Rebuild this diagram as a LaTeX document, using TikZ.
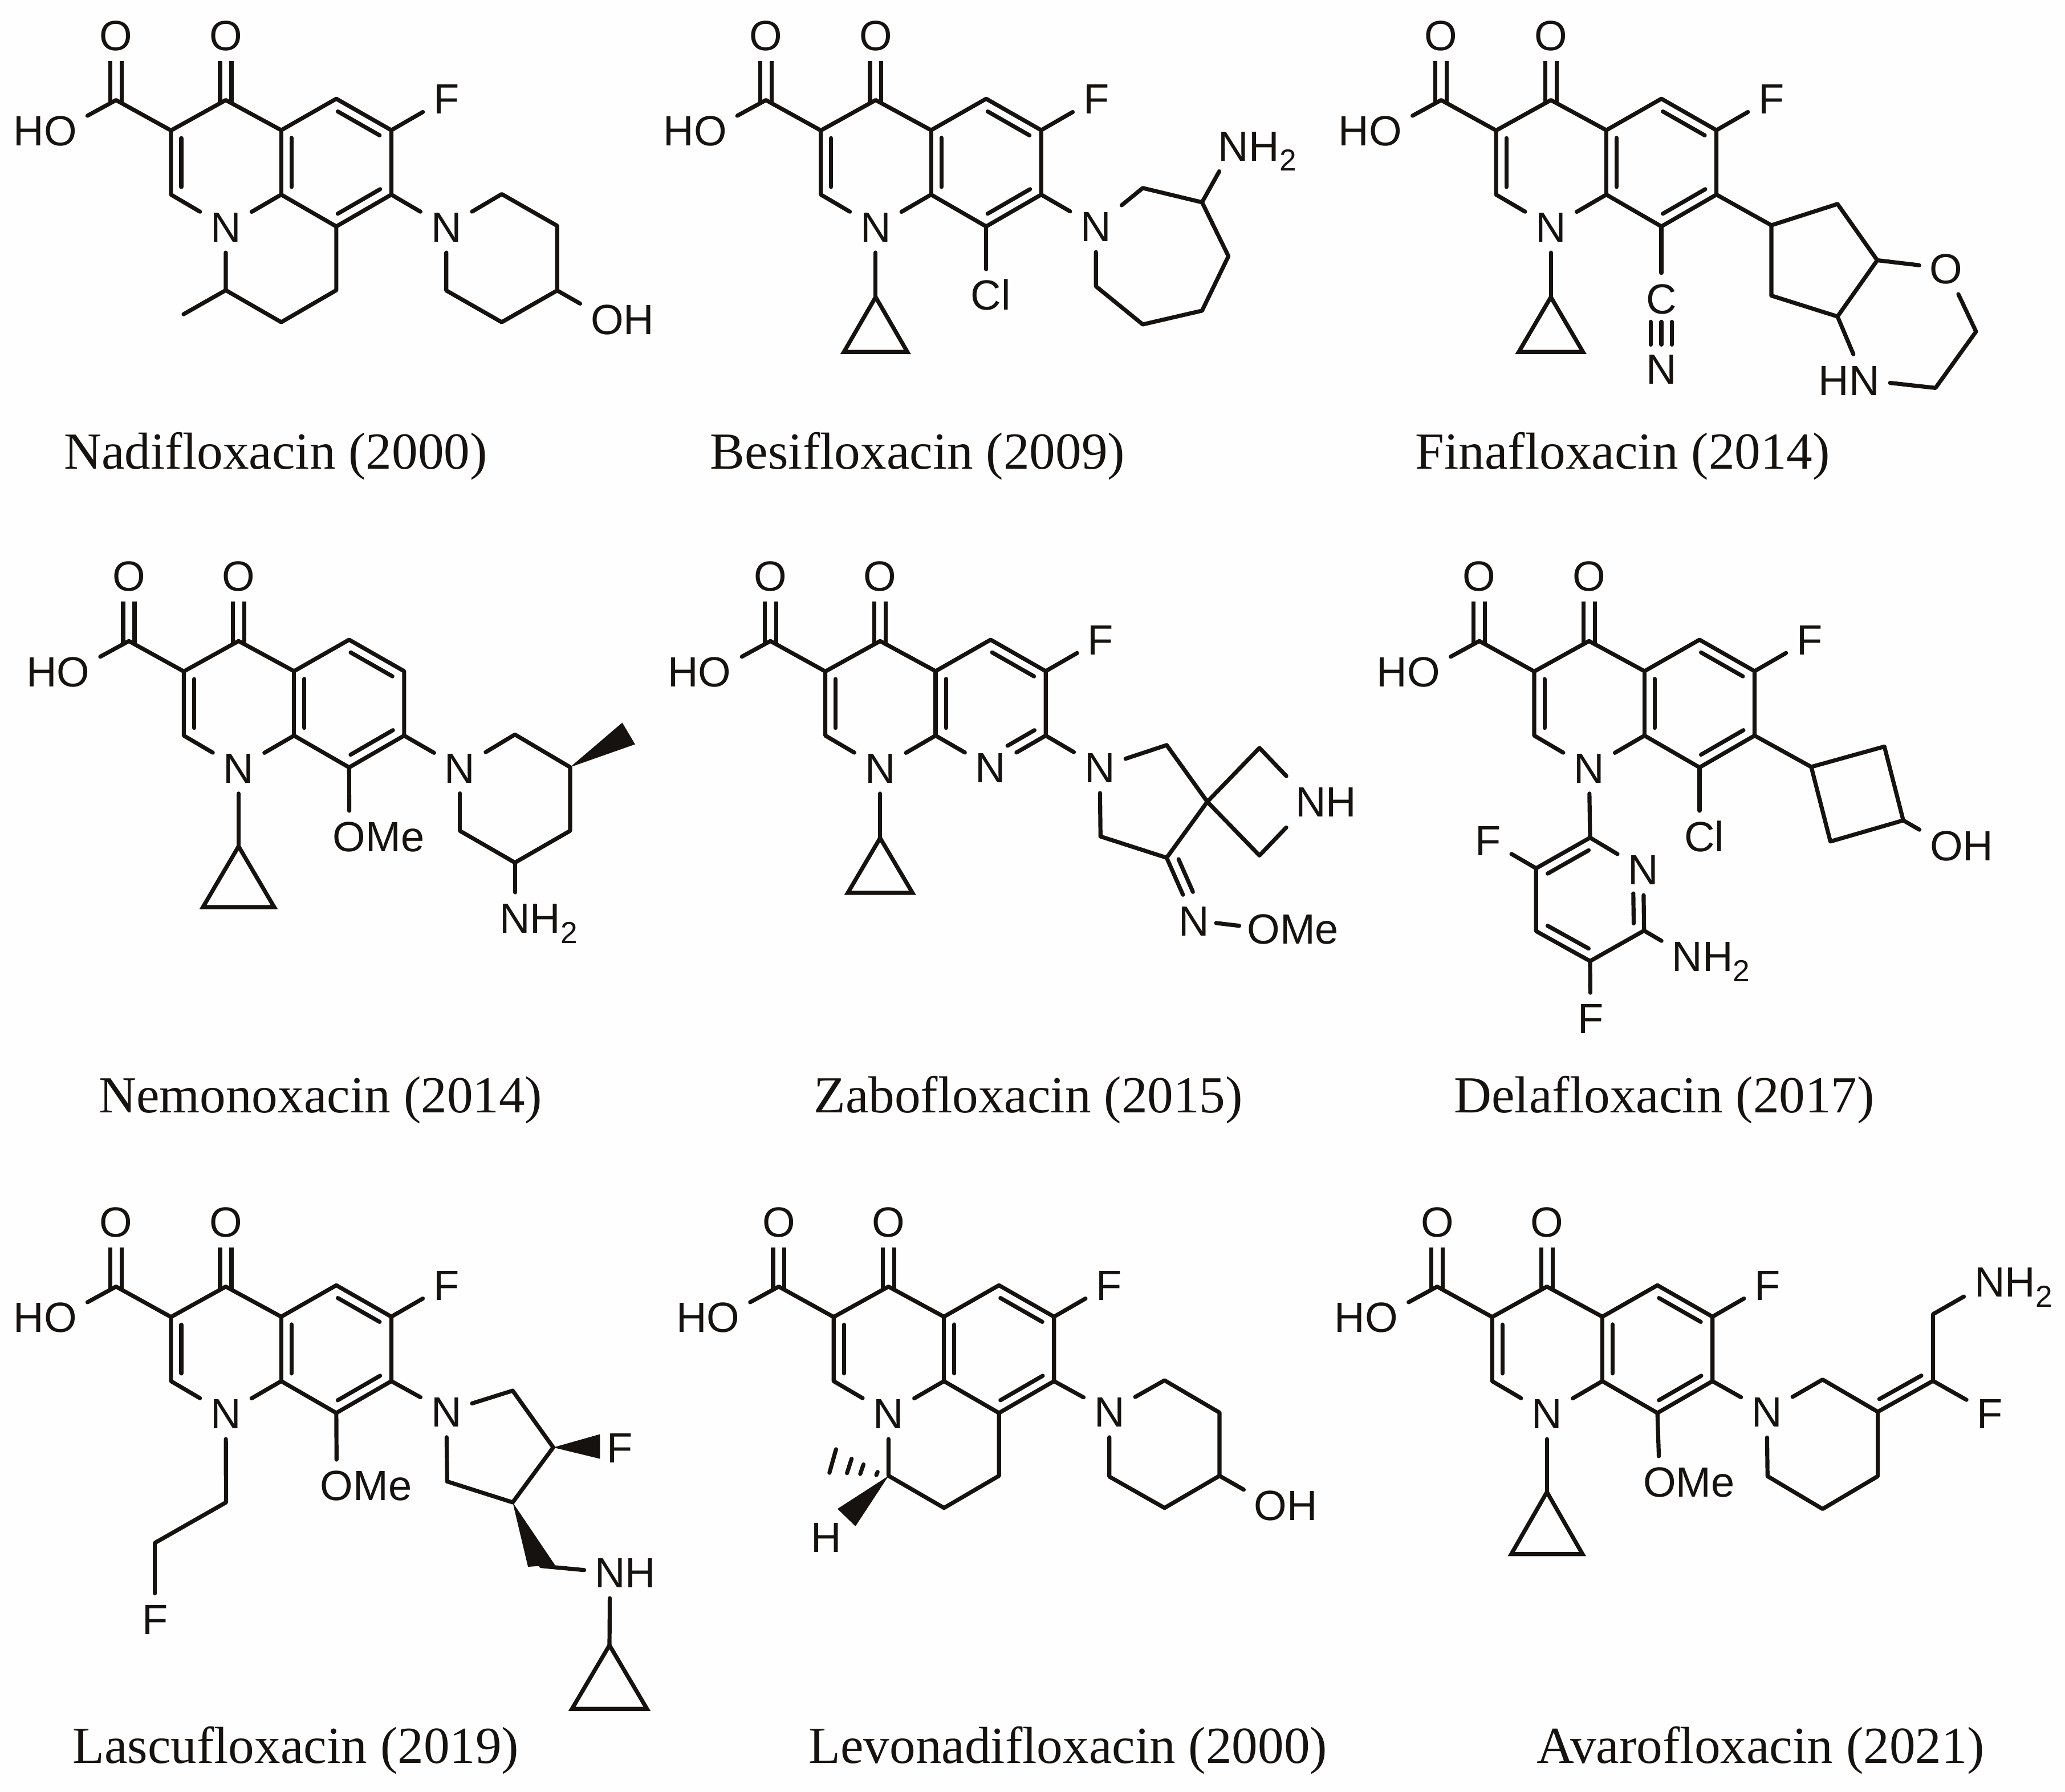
\documentclass[tikz,border=0pt]{standalone}
\usepackage{fontspec}
\usetikzlibrary{calc}
\newfontfamily\atomfont{Liberation Sans}
\newfontfamily\capfont[Ligatures=NoCommon]{Liberation Serif}
\definecolor{ink}{HTML}{16120F}
\definecolor{paper}{HTML}{FEFEFE}
\tikzset{
  bond/.style={draw=ink,line width=3.1pt,line cap=round,line join=round},
  dbl/.style={draw=ink,line width=3.1pt,line cap=butt,double=paper,double distance=5.5pt},
  atom/.style={text=ink,inner sep=8pt,outer sep=0pt,text height=23pt,text depth=0pt,
    font=\atomfont\fontsize{32}{32}\selectfont},
  vtx/.style={inner sep=0pt,outer sep=0pt,minimum size=0pt},
  capt/.style={text=ink,anchor=base,inner sep=0pt,font=\capfont\fontsize{39.4}{39.4}\selectfont},
}
\newcommand\subtwo{\raisebox{-7.7pt}{\fontsize{23}{23}\selectfont 2}}
\newcommand\atom[3]{\node[atom] (#1) at (#2) {#3};}
\newcommand\vx[2]{\coordinate (#1) at (#2);}
\newcommand\inbx[4]{\draw[bond] ($(#1)!#3!(#2)!7.8pt!90:(#2)$) -- ($(#2)!#4!(#1)!7.8pt!-90:(#1)$);}
\newcommand\inb[2]{\inbx{#1}{#2}{.12}{.12}}
\newcommand\wdg[3]{\fill[ink] (#1) -- (#2) -- (#3) -- cycle;}
\newcommand\cpr[5]{%
  \coordinate (cpt) at (#2,#3);
  \coordinate (cpl) at ({#2-#5},{#3+#4});
  \coordinate (cpr) at ({#2+#5},{#3+#4});
  \draw[bond] (#1) -- (cpt);
  \draw[bond,line join=miter] (cpt) -- (cpl) -- (cpr) -- cycle;}
\newcommand\quin[5]{%
  \def\dx{#1}\def\dy{#2}%
  \begin{scope}[shift={(#1,#2)}]
    \atom{Oa}{87.9,26.5}{O}
    \atom{Ob}{171,26.5}{O}
    \atom{OH}{45.8,98.8}{\llap{H}O}
    \atom{N1}{171,171.8}{N}
    \vx{Cc}{87.9,75.8}
    \vx{C3}{129.5,98.8}
    \vx{C4}{171,75.8}
    \vx{C4a}{213,98.6}
    \vx{C8a}{213,147.4}
    \vx{C2}{129.5,147.4}
    \vx{C5}{254.7,74.8}
    \vx{C6}{296.4,98.6}
    \vx{C7}{296.4,147.4}
    \node[#3] (C8) at (254.7,171.5) {#4};
    \draw[dbl,shorten >=-3pt] (Oa) -- (Cc);
    \draw[dbl,shorten >=-3pt] (Ob) -- (C4);
    \draw[bond] (OH) -- (Cc) -- (C3) -- (C4) -- (C4a) -- (C5) -- (C6) -- (C7) -- (C8);
    \draw[bond] (C8) -- (C8a) -- (N1);
    \draw[bond] (N1) -- (C2) -- (C3);
    \draw[bond] (C4a) -- (C8a);
    \inb{C3}{C2}
    \inb{C4a}{C8a}
    \inb{C6}{C5}
    \inbx{C8}{C7}{#5}{.11}
  \end{scope}}
\newcommand\fsix{%
  \begin{scope}[shift={(\dx,\dy)}]\atom{F6}{338,74.6}{F}\end{scope}
  \draw[bond] (C6) -- (F6);}
\newcommand\capn[3]{\node[capt] (cap) at (#1,#2) {#3};}
\begin{document}
\begin{tikzpicture}[x=1pt,y=-1pt]
\fill[paper] (0,0) rectangle (1564,1356.8);
\useasboundingbox (0,0) rectangle (1564,1356.8);

% Nadifloxacin
\begin{scope}[name prefix=nadi-]
  \quin{0}{0}{vtx}{}{.12}\fsix
  \atom{Np}{338,171.8}{N}
  \atom{OHp}{459.8,241.6}{O\rlap{H}}
  \vx{a}{380,147}\vx{b}{422,171}\vx{c}{422,220}\vx{d}{380,244}\vx{f}{338,220}
  \vx{p}{254.7,219.8}\vx{q}{213,244}\vx{r}{171,219.8}\vx{m}{139,238}
  \draw[bond] (C7) -- (Np);
  \draw[bond] (Np) -- (a) -- (b) -- (c) -- (d) -- (f) -- (Np);
  \draw[bond] (c) -- (OHp);
  \draw[bond] (C8) -- (p) -- (q) -- (r) -- (N1);
  \draw[bond] (r) -- (m);
  \capn{208.8}{355}{Nadifloxacin (2000)}
\end{scope}

% Besifloxacin
\begin{scope}[name prefix=besi-]
  \quin{492.2}{0}{vtx}{}{.12}\fsix
  \cpr{N1}{663.2}{225}{41.5}{24}
  \atom{Cl}{746.9,223.4}{C\rlap{l}}
  \atom{Np}{830,171.4}{N}
  \atom{NH}{934.3,110.3}{N\rlap{H\subtwo}}
  \vx{a}{865.5,142.4}\vx{b}{910.4,153.2}\vx{c}{930.4,194}\vx{d}{910.4,235.3}\vx{f}{865.5,245.7}\vx{g}{830,216.8}
  \draw[bond] (C8) -- (Cl);
  \draw[bond] (C7) -- (Np);
  \draw[bond] (Np) -- (a) -- (b) -- (c) -- (d) -- (f) -- (g) -- (Np);
  \draw[bond] (b) -- (NH);
  \capn{695}{355}{Besifloxacin (2009)}
\end{scope}

% Finafloxacin
\begin{scope}[name prefix=fina-]
  \quin{1003.6}{0}{vtx}{}{.12}\fsix
  \cpr{N1}{1174.6}{225}{41.5}{24.3}
  \atom{CN}{1258.3,226.2}{C}
  \atom{NN}{1258.3,279.5}{N}
  \atom{Ox}{1474,203.3}{O}
  \atom{HN}{1411.9,287.8}{\llap{H}N}
  \vx{a}{1341.6,170.6}\vx{b}{1391.7,154.5}\vx{c}{1421.8,197.1}\vx{d}{1391.7,239.7}\vx{f}{1341.6,223.9}
  \vx{g}{1496.6,251.1}\vx{h}{1465.9,293.8}
  \draw[bond] (C8) -- (CN);
  \draw[bond,shorten <=-2pt,shorten >=-1pt] (CN.south) -- (NN.north);
  \draw[bond,shorten <=-2pt,shorten >=-1pt] ($(CN.south)+(-8,0)$) -- ($(NN.north)+(-8,0)$);
  \draw[bond,shorten <=-2pt,shorten >=-1pt] ($(CN.south)+(8,0)$) -- ($(NN.north)+(8,0)$);
  \draw[bond] (C7) -- (a) -- (b) -- (c) -- (d) -- (f) -- (a);
  \draw[bond] (c) -- (Ox) -- (g) -- (h) -- (HN) -- (d);
  \capn{1229}{355}{Finafloxacin (2014)}
\end{scope}

% Nemonoxacin
\begin{scope}[name prefix=nemo-]
  \quin{9.7}{409.7}{vtx}{}{.12}
  \cpr{N1}{180.7}{641}{46}{27}
  \atom{OMe}{264.5,633.5}{O\rlap{Me}}
  \atom{Np}{348.3,581.4}{N}
  \atom{NH}{390,695.3}{N\rlap{H\subtwo}}
  \vx{a}{390,556.3}\vx{b}{431.8,581}\vx{c}{431.8,629.2}\vx{d}{390,653.3}\vx{f}{348.3,629.2}
  \vx{w1}{471.3,547.3}\vx{w2}{481,563.7}
  \draw[bond] (C8) -- (OMe);
  \draw[bond] (C7) -- (Np);
  \draw[bond] (Np) -- (a) -- (b) -- (c) -- (d) -- (f) -- (Np);
  \draw[bond] (d) -- (NH);
  \wdg{b}{w1}{w2}
  \capn{242.8}{842.7}{Nemonoxacin (2014)}
\end{scope}

% Zabofloxacin
\begin{scope}[name prefix=zabo-]
  \quin{495.6}{409.7}{atom}{N}{.40}\fsix
  \cpr{N1}{666.6}{634.7}{41.5}{24.5}
  \atom{Np}{832.9,581.1}{N}
  \atom{NH}{992.8,607.2}{N\rlap{H}}
  \atom{Nx}{904.5,697.1}{N}
  \atom{OMe}{957,703.3}{O\rlap{Me}}
  \vx{a}{883.6,564.3}\vx{s}{914.4,607.2}\vx{c}{883.6,649.6}\vx{d}{833.5,633.5}
  \vx{u}{953.9,566.4}\vx{v}{953.9,647.9}
  \draw[bond] (C7) -- (Np);
  \draw[bond] (Np) -- (a) -- (s) -- (c) -- (d) -- (Np);
  \draw[bond] (s) -- (u) -- (NH) -- (v) -- (s);
  \draw[bond] (c) -- (Nx);
  \inbx{c}{Nx}{.09}{.39}
  \draw[bond,shorten <=-3pt,shorten >=-2pt] (Nx) -- (OMe);
  \capn{778.8}{842.7}{Zabofloxacin (2015)}
\end{scope}

% Delafloxacin
\begin{scope}[name prefix=dela-]
  \quin{1032.5}{409.7}{vtx}{}{.12}\fsix
  \atom{Cl}{1287.2,633.5}{C\rlap{l}}
  \atom{OHp}{1474.2,640.2}{O\rlap{H}}
  \atom{Npy}{1244.6,658.5}{N}
  \atom{Fa}{1127,636.4}{F}
  \atom{Fb}{1204.6,771.3}{F}
  \atom{NH}{1277.9,724}{N\rlap{H\subtwo}}
  \vx{a}{1371.8,580.8}\vx{b}{1427.2,565.4}\vx{c}{1441.5,621.3}\vx{d}{1386.3,637.3}
  \vx{pt}{1204.3,634.4}\vx{pb}{1245.2,704.8}\vx{pc}{1204.3,727.9}\vx{pd}{1163.4,705.2}\vx{pe}{1163.4,657.6}
  \draw[bond] (C8) -- (Cl);
  \draw[bond] (C7) -- (a) -- (b) -- (c) -- (d) -- (a);
  \draw[bond] (c) -- (OHp);
  \draw[bond] (N1) -- (pt);
  \draw[bond] (pt) -- (Npy) -- (pb) -- (pc) -- (pd) -- (pe) -- (pt);
  \inb{pt}{pe}
  \inb{pd}{pc}
  \inbx{pb}{Npy}{.12}{.39}
  \draw[bond] (pe) -- (Fa);
  \draw[bond] (pc) -- (Fb);
  \draw[bond] (pb) -- (NH);
  \capn{1260.5}{842.7}{Delafloxacin (2017)}
\end{scope}

% Lascufloxacin
\begin{scope}[name prefix=lasc-]
  \quin{0}{898.6}{vtx}{}{.12}\fsix
  \atom{OMe}{255,1124.9}{O\rlap{Me}}
  \atom{Np}{338,1069}{N}
  \atom{Fa}{469.3,1096.2}{F}
  \atom{Fb}{117.3,1226.2}{F}
  \atom{NH}{462,1190.9}{N\rlap{H}}
  \vx{a}{388.3,1053.2}\vx{b}{419,1096.2}\vx{c}{388.3,1137.8}\vx{d}{338.7,1122}
  \vx{w1}{454.4,1086.2}\vx{w2}{454.4,1104.8}
  \vx{w3}{399.9,1186.6}\vx{w4}{420.3,1185.2}\vx{wm}{409.8,1186}
  \vx{ch1}{171.2,1137.8}\vx{ch2}{117.3,1168.5}
  \draw[bond] (C8) -- (OMe);
  \draw[bond] (C7) -- (Np);
  \draw[bond] (Np) -- (a) -- (b) -- (c) -- (d) -- (Np);
  \wdg{b}{w1}{w2}
  \wdg{c}{w3}{w4}
  \draw[bond] (wm) -- (NH);
  \cpr{NH}{461.6}{1246}{48.2}{28.4}
  \draw[bond] (N1) -- (ch1) -- (ch2) -- (Fb);
  \capn{224}{1335.4}{Lascufloxacin (2019)}
\end{scope}

% Levonadifloxacin
\begin{scope}[name prefix=levo-]
  \quin{501.9}{898.6}{vtx}{}{.12}\fsix
  \atom{Np}{840.2,1069}{N}
  \atom{OHp}{962.4,1139.8}{O\rlap{H}}
  \atom{Hh}{626,1164.2}{H}
  \vx{a}{882,1045.4}\vx{b}{923.6,1069.8}\vx{c}{923.6,1117.7}\vx{d}{882,1142}\vx{f}{840.2,1118.3}
  \vx{r}{673,1117.7}\vx{q}{715,1142}\vx{p}{756.6,1117.7}
  \vx{w1}{634.3,1142.7}\vx{w2}{647.9,1155.9}
  \vx{h1}{633.2,1097.6}\vx{h2}{628.2,1115.4}
  \vx{h3}{645,1104.8}\vx{h4}{641.5,1115.7}
  \vx{h5}{654,1109.1}\vx{h6}{651.5,1116.3}
  \vx{h7}{664.7,1114.8}\vx{h8}{663.7,1117.1}
  \draw[bond] (C7) -- (Np);
  \draw[bond] (Np) -- (a) -- (b) -- (c) -- (d) -- (f) -- (Np);
  \draw[bond] (c) -- (OHp);
  \draw[bond] (C8) -- (p) -- (q) -- (r) -- (N1);
  \wdg{r}{w1}{w2}
  \draw[bond] (h1) -- (h2);
  \draw[bond] (h3) -- (h4);
  \draw[bond] (h5) -- (h6);
  \draw[bond] (h7) -- (h8);
  \capn{808.9}{1335.4}{Levonadifloxacin (2000)}
\end{scope}

% Avarofloxacin
\begin{scope}[name prefix=avar-]
  \quin{1000.6}{898.6}{vtx}{}{.12}\fsix
  \cpr{N1}{1171.6}{1130}{47}{27}
  \atom{OMe}{1257,1122.3}{O\rlap{Me}}
  \atom{Np}{1338.1,1069.2}{N}
  \atom{NH}{1506.9,970.8}{N\rlap{H\subtwo}}
  \atom{Fa}{1507.1,1070.2}{F}
  \vx{a}{1380.4,1044.8}\vx{b}{1422.2,1069.2}\vx{c}{1422.2,1118}\vx{d}{1380.4,1142.8}\vx{f}{1338.7,1118}
  \vx{g}{1464,1045.8}\vx{h}{1464,995.3}
  \draw[bond] (C8) -- (OMe);
  \draw[bond] (C7) -- (Np);
  \draw[bond] (Np) -- (a) -- (b) -- (c) -- (d) -- (f) -- (Np);
  \draw[bond] (b) -- (g) -- (h) -- (NH);
  \draw[bond] (g) -- (Fa);
  \inb{b}{g}
  \capn{1333.5}{1335.4}{Avarofloxacin (2021)}
\end{scope}
\end{tikzpicture}
\end{document}
